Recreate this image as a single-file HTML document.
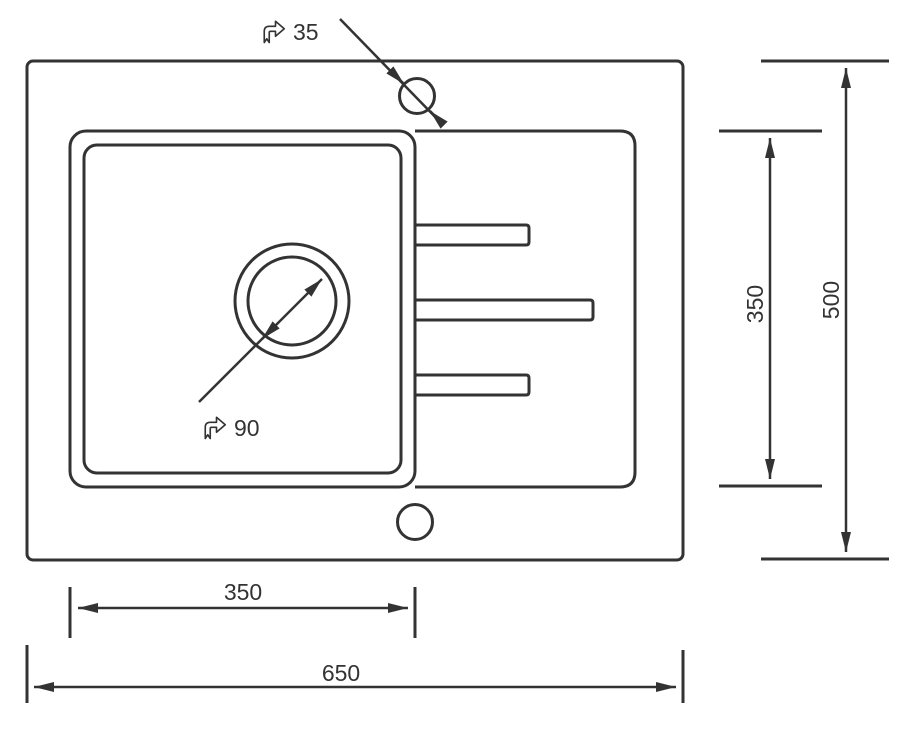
<!DOCTYPE html>
<html><head><meta charset="utf-8"><style>
html,body{margin:0;padding:0;background:#fff;width:909px;height:730px;overflow:hidden}
svg{display:block}
</style></head><body>
<svg width="909" height="730" viewBox="0 0 909 730" xmlns="http://www.w3.org/2000/svg">
<defs>
<marker id="a" viewBox="0 0 20 10" refX="20" refY="5" markerWidth="20" markerHeight="10" markerUnits="userSpaceOnUse" orient="auto-start-reverse">
<path d="M0,0 L20,5 L0,10 Z" fill="#333"/></marker>
<g id="ic"><path d="M1,18 L1,9 Q1,5 5,5 L10,5 L10,1 L17,7 L10,13 L10,9 L6,9 Q5,9 5,10 L5,18 L3,15 Z" fill="none" stroke="#333" stroke-width="1.3" stroke-linejoin="round"/></g>
</defs>
<g fill="none" stroke="#333" stroke-width="3">
<rect x="27" y="61" width="656" height="499" rx="6"/>
<path d="M415,131 L620,131 Q635,131 635,146 L635,472 Q635,487 620,487 L415,487"/>
<rect x="70" y="131" width="345" height="356" rx="16"/>
<rect x="84" y="145" width="317" height="328" rx="13"/>
<path d="M415,225 L526,225 Q529,225 529,228 L529,242 Q529,245 526,245 L415,245"/>
<path d="M415,300 L590,300 Q593,300 593,303 L593,317 Q593,320 590,320 L415,320"/>
<path d="M415,375 L526,375 Q529,375 529,378 L529,392 Q529,395 526,395 L415,395"/>
<circle cx="415" cy="522" r="17.5"/>
<circle cx="417" cy="96" r="17.5"/>
<circle cx="292" cy="301" r="57"/>
<circle cx="292" cy="301" r="44"/>
</g>
<g stroke="#333" stroke-width="2.5" fill="none">
<line x1="340" y1="19" x2="443" y2="125"/>
<line x1="390" y1="70" x2="404" y2="84" marker-end="url(#a)"/>
<line x1="430" y1="111" x2="444" y2="125" marker-start="url(#a)"/>
<line x1="199" y1="402" x2="322" y2="279" marker-end="url(#a)"/>
<line x1="262" y1="339" x2="270" y2="331" marker-start="url(#a)"/>
</g>
<g stroke="#333" stroke-width="3" fill="none">
<line x1="761" y1="61" x2="889" y2="61"/>
<line x1="761" y1="559" x2="889" y2="559"/>
<line x1="719" y1="131" x2="822" y2="131"/>
<line x1="719" y1="486" x2="822" y2="486"/>
<line x1="70" y1="587" x2="70" y2="638"/>
<line x1="415" y1="587" x2="415" y2="638"/>
<line x1="27" y1="645" x2="27" y2="703"/>
<line x1="683" y1="650" x2="683" y2="703"/>
</g>
<g stroke="#333" stroke-width="2.5" fill="none">
<line x1="846" y1="68" x2="846" y2="552" marker-start="url(#a)" marker-end="url(#a)"/>
<line x1="770" y1="138" x2="770" y2="479" marker-start="url(#a)" marker-end="url(#a)"/>
<line x1="78" y1="608" x2="408" y2="608" marker-start="url(#a)" marker-end="url(#a)"/>
<line x1="34" y1="687" x2="676" y2="687" marker-start="url(#a)" marker-end="url(#a)"/>
</g>
<g font-family="Liberation Sans, sans-serif" font-size="23" fill="#333">
<use href="#ic" transform="translate(263,20) scale(1.25)"/>
<text x="293" y="40">35</text>
<use href="#ic" transform="translate(204,416) scale(1.25)"/>
<text x="234" y="436">90</text>
<text x="243" y="600" text-anchor="middle">350</text>
<text x="341" y="681" text-anchor="middle">650</text>
<text transform="translate(763,304) rotate(-90)" text-anchor="middle">350</text>
<text transform="translate(839,300) rotate(-90)" text-anchor="middle">500</text>
</g>
</svg>
</body></html>
